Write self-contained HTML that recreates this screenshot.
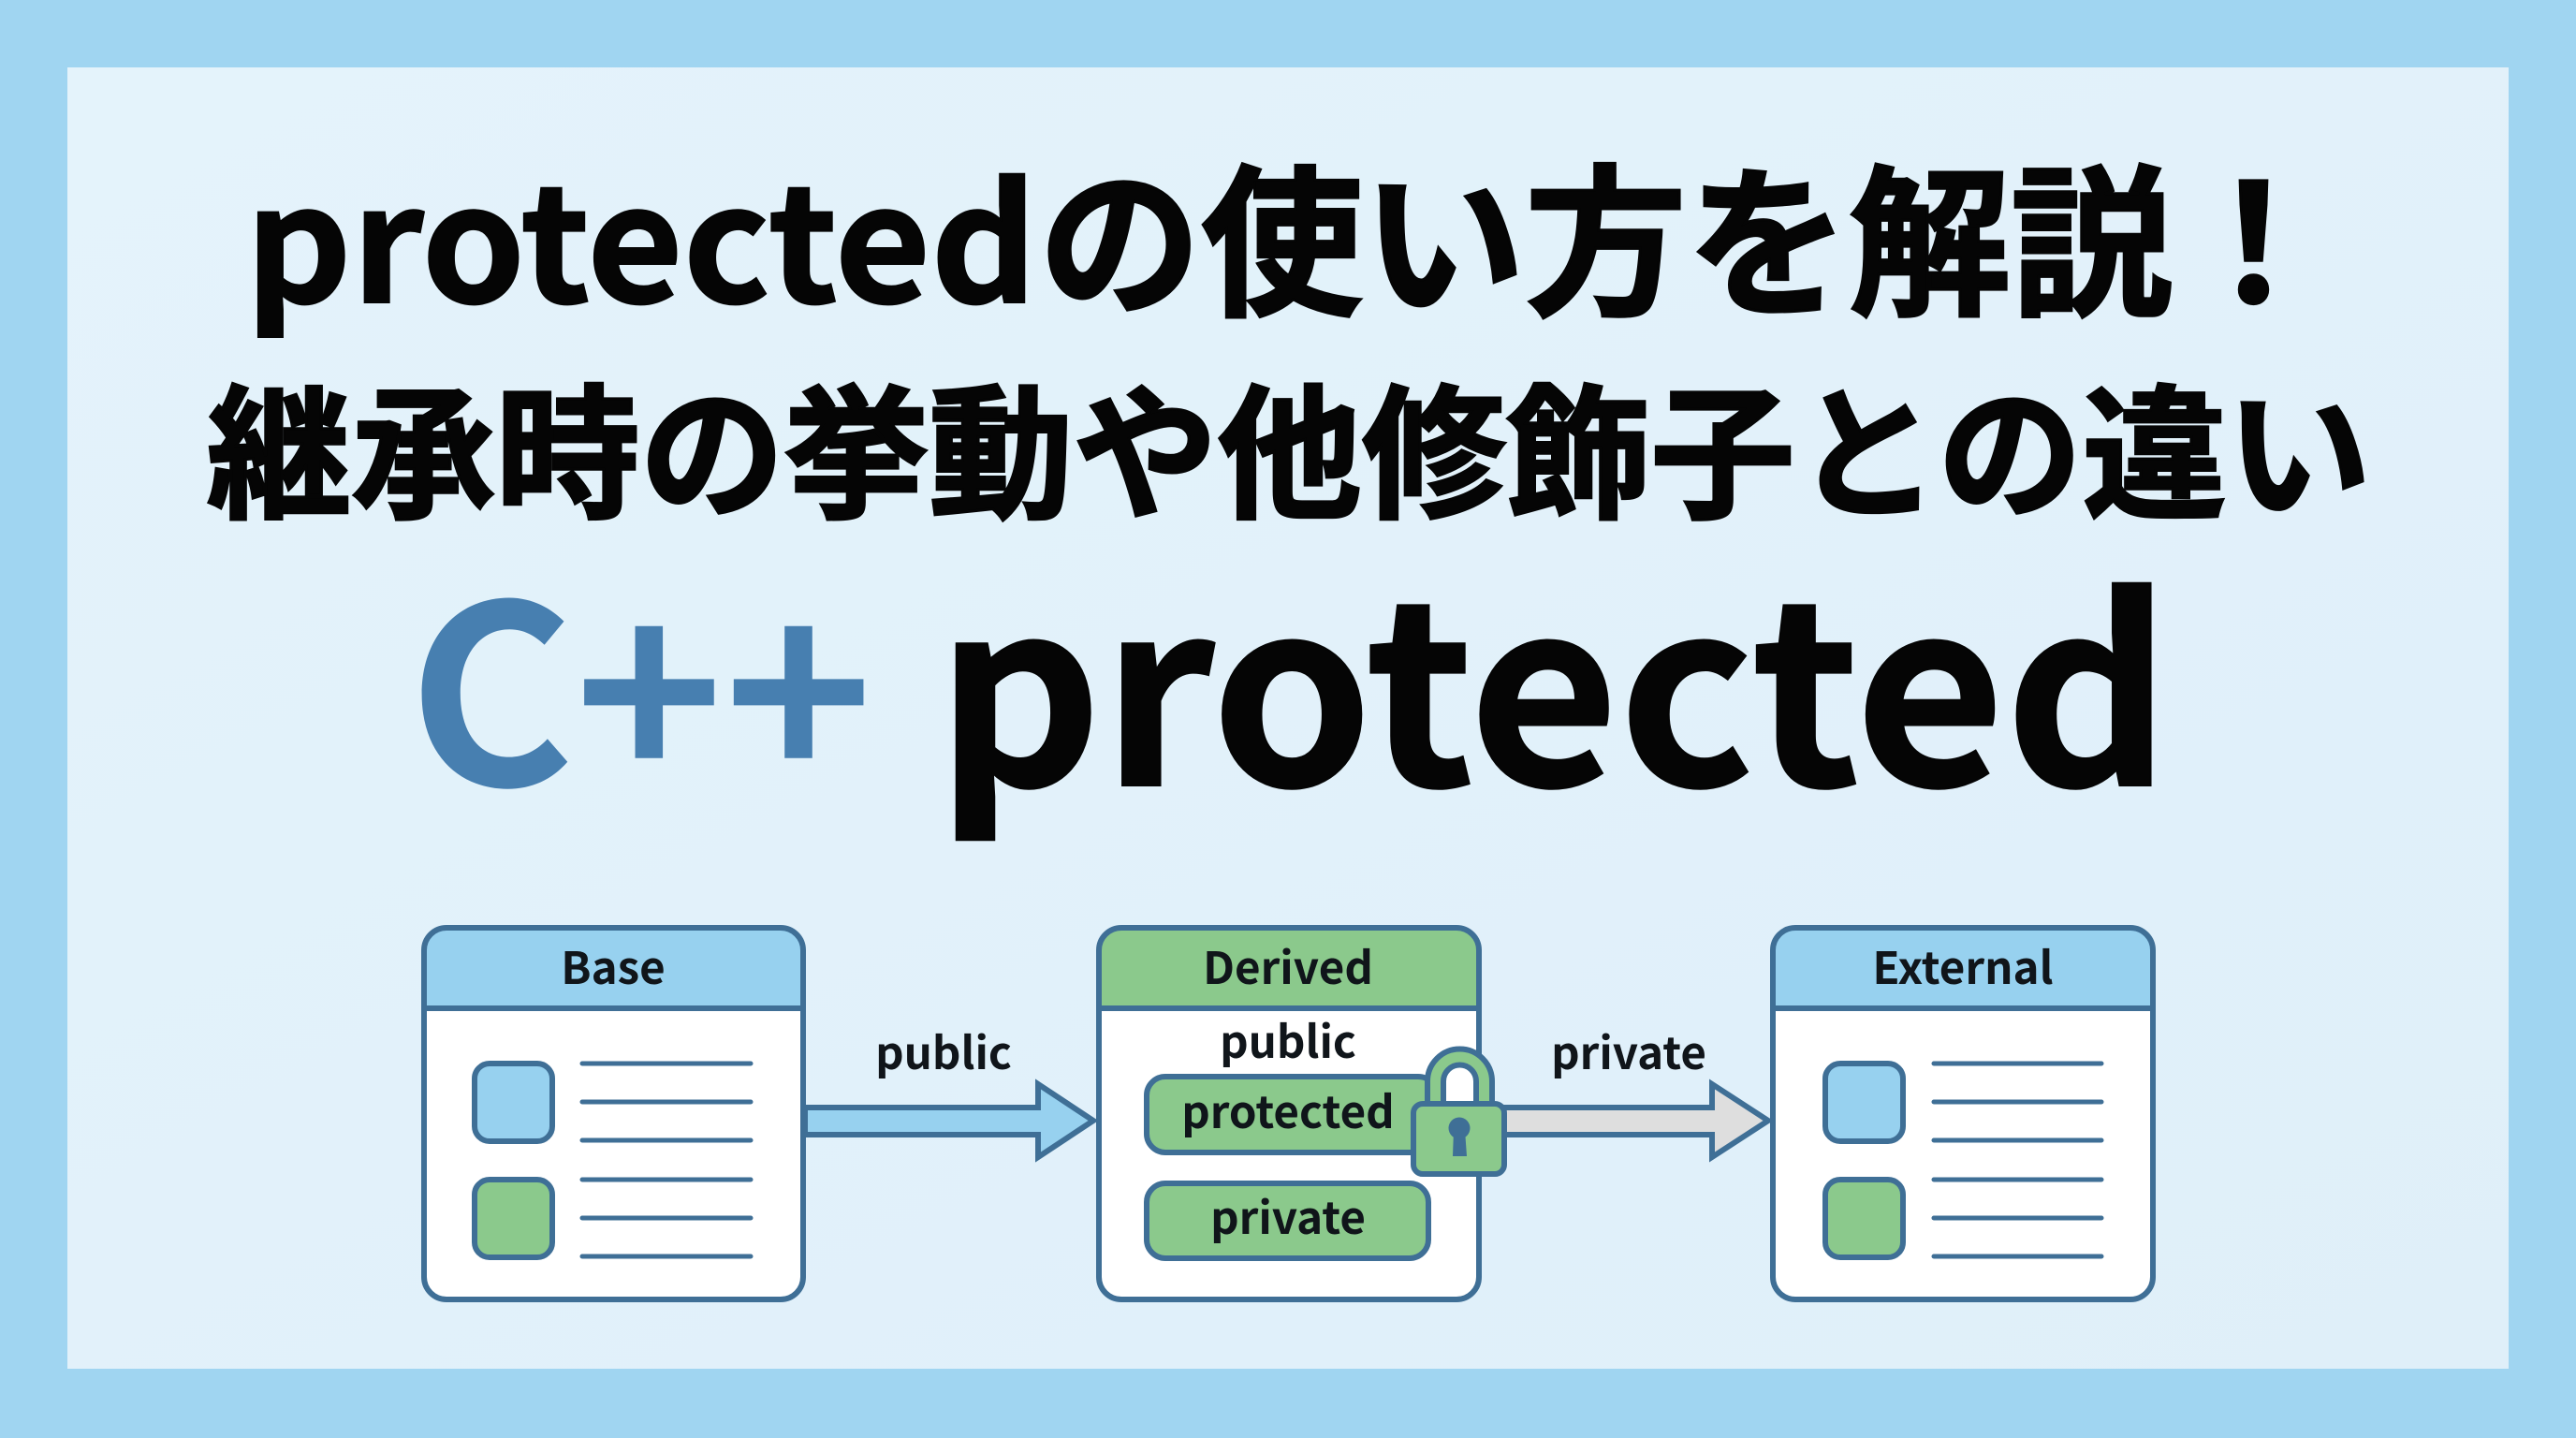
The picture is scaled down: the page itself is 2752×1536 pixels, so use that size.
<!DOCTYPE html>
<html lang="ja"><head><meta charset="utf-8"><title>C++ protected</title>
<style>
html,body{margin:0;padding:0;background:#a0d5f1}
svg{display:block}
text{font-family:"Liberation Sans","Noto Sans CJK JP",sans-serif}
.j{font-family:"Noto Sans CJK JP",sans-serif;font-weight:700}
.h{stroke:#050505;stroke-width:3;stroke-linejoin:miter}
.m{stroke:#050505;stroke-width:2}
.s{fill:none;stroke:#3f6f96;stroke-width:6}
.l{stroke:#3f6f96;stroke-width:5;stroke-linecap:round}
.t{font-family:"Noto Sans CJK JP",sans-serif;font-weight:700;font-size:47.5px;fill:#10151a;text-anchor:middle}
</style></head><body>
<svg xmlns="http://www.w3.org/2000/svg" width="2752" height="1536" viewBox="0 0 2752 1536">
<defs>
<linearGradient id="bg" x1="0" y1="0" x2="1" y2="1"><stop offset="0" stop-color="#e4f3fb"/><stop offset="1" stop-color="#dfeff9"/></linearGradient>
</defs>
<rect width="2752" height="1536" fill="#a0d5f1"/>
<rect x="72" y="72" width="2608" height="1390" fill="url(#bg)"/>

<text class="j m" x="262" y="323" font-size="172" fill="#050505" textLength="846" lengthAdjust="spacingAndGlyphs">protected</text>
<text class="j h" x="1110" y="323" font-size="174" fill="#050505" textLength="1384" lengthAdjust="spacingAndGlyphs">の使い方を解説！</text>
<text class="j h" x="221" y="541" font-size="155" fill="#050505" textLength="2312" lengthAdjust="spacingAndGlyphs">継承時の挙動や他修飾子との違い</text>
<text class="j" x="436" y="839" font-size="266" fill="#477fb0" textLength="497" lengthAdjust="spacingAndGlyphs">C++</text>
<text class="j m" x="1000" y="839" font-size="271" fill="#050505" textLength="1319" lengthAdjust="spacingAndGlyphs">protected</text>

<!-- Base -->
<rect x="453" y="991" width="405" height="397" rx="24" fill="#fff"/>
<path d="M453 1077V1015a24 24 0 0 1 24-24H834a24 24 0 0 1 24 24V1077Z" fill="#97d1ef"/>
<rect class="s" x="453" y="991" width="405" height="397" rx="24"/>
<path class="s" d="M453 1077H858"/>
<text class="t" x="655" y="1051">Base</text>
<rect class="s" x="507" y="1136" width="83" height="83" rx="16" style="fill:#97d1ef"/>
<rect class="s" x="507" y="1260" width="83" height="83" rx="16" style="fill:#8bc98c"/>
<path class="l" d="M622 1136H802M622 1177H802M622 1218H802M622 1260H802M622 1301H802M622 1342H802"/>

<!-- Arrow 1 -->
<path d="M860 1183H1109V1158L1168 1197L1109 1236V1212H860Z" fill="#97d1ef" stroke="#3f6f96" stroke-width="6"/>
<text class="t" x="1008" y="1142">public</text>

<!-- Derived -->
<rect x="1174" y="991" width="406" height="397" rx="24" fill="#fff"/>
<path d="M1174 1077V1015a24 24 0 0 1 24-24H1556a24 24 0 0 1 24 24V1077Z" fill="#8bc98c"/>
<rect class="s" x="1174" y="991" width="406" height="397" rx="24"/>
<path class="s" d="M1174 1077H1580"/>
<text class="t" x="1376" y="1051">Derived</text>
<text class="t" x="1376" y="1130">public</text>
<rect class="s" x="1225" y="1150" width="310" height="81" rx="20" style="fill:#8bc98c"/>
<text class="t" x="1376" y="1205">protected</text>
<rect class="s" x="1225" y="1264" width="301" height="80" rx="20" style="fill:#8bc98c"/>
<text class="t" x="1376" y="1318">private</text>

<!-- Arrow 2 -->
<path d="M1600 1183H1829V1158L1889 1197L1829 1236V1212H1600Z" fill="#dedede" stroke="#3f6f96" stroke-width="6"/>
<text class="t" x="1740" y="1142">private</text>

<!-- Lock -->
<path d="M1533.5 1180V1155a26 26 0 0 1 52 0V1180" fill="#fff" stroke="#3f6f96" stroke-width="23"/>
<path d="M1533.5 1180V1155a26 26 0 0 1 52 0V1180" fill="none" stroke="#8bc98c" stroke-width="11"/>
<rect x="1510" y="1179" width="97" height="75" rx="10" fill="#8bc98c" stroke="#3f6f96" stroke-width="6"/>
<circle cx="1559" cy="1205" r="11.5" fill="#3f6f96"/>
<path d="M1553 1207H1565L1567 1235H1552Z" fill="#3f6f96"/>

<!-- External -->
<rect x="1894" y="991" width="406" height="397" rx="24" fill="#fff"/>
<path d="M1894 1077V1015a24 24 0 0 1 24-24H2276a24 24 0 0 1 24 24V1077Z" fill="#97d1ef"/>
<rect class="s" x="1894" y="991" width="406" height="397" rx="24"/>
<path class="s" d="M1894 1077H2300"/>
<text class="t" x="2097" y="1051">External</text>
<rect class="s" x="1950" y="1136" width="83" height="83" rx="16" style="fill:#97d1ef"/>
<rect class="s" x="1950" y="1260" width="83" height="83" rx="16" style="fill:#8bc98c"/>
<path class="l" d="M2066 1136H2245M2066 1177H2245M2066 1218H2245M2066 1260H2245M2066 1301H2245M2066 1342H2245"/>
</svg>
</body></html>
